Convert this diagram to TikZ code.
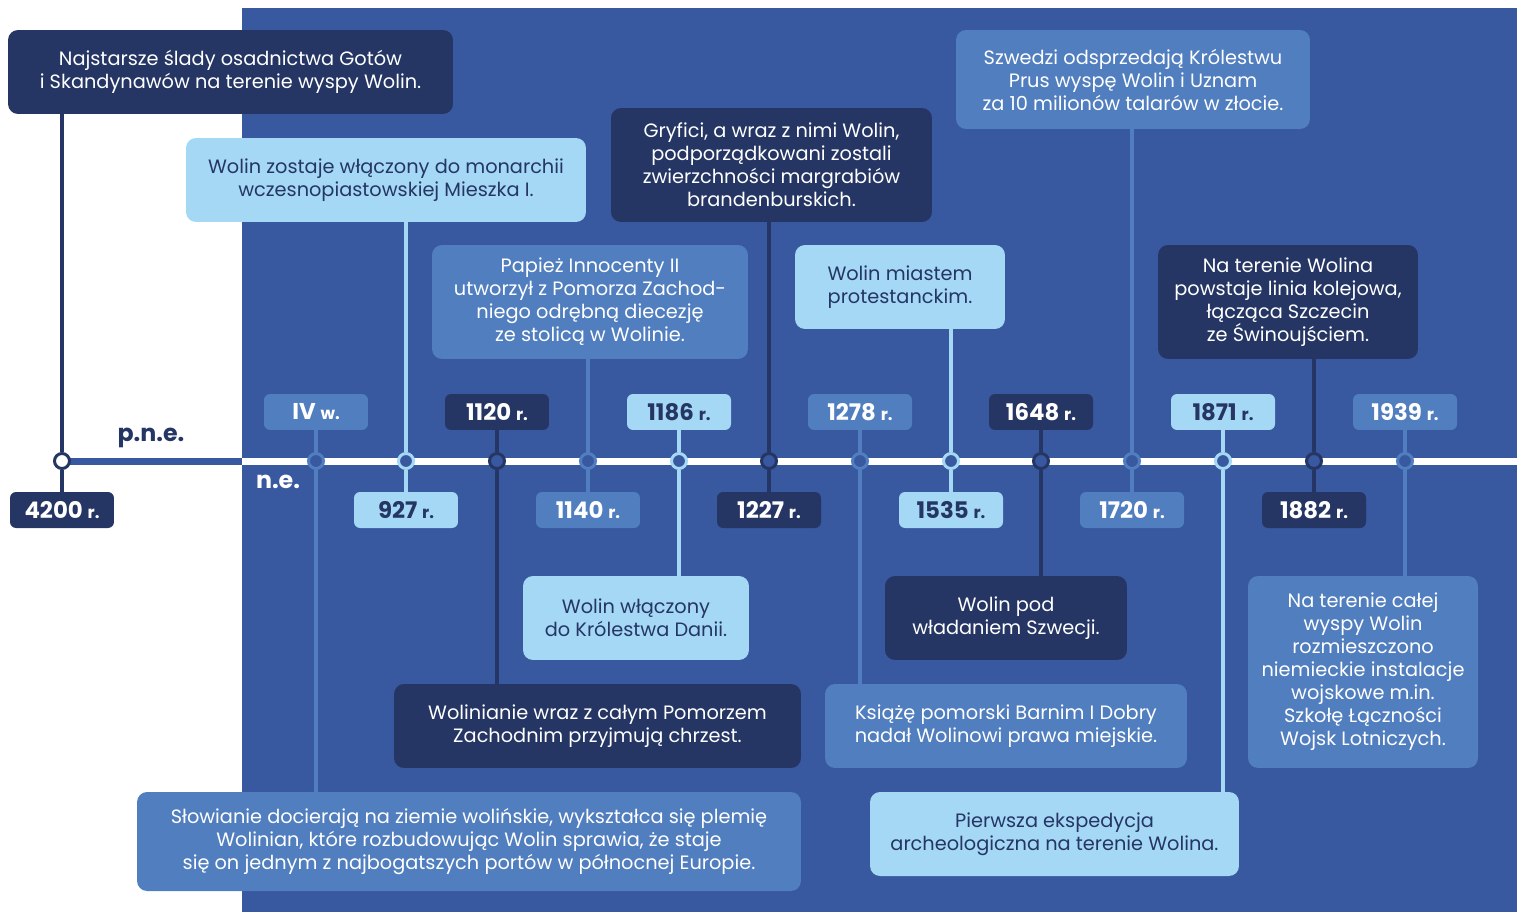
\documentclass[tikz,border=0pt]{standalone}
\usepackage{fontspec}
\setmainfont{Poppins}

\definecolor{bgblue}{RGB}{56,88,160}
\definecolor{navy}{RGB}{37,54,100}
\definecolor{midblue}{RGB}{80,126,191}
\definecolor{lightblue}{RGB}{164,216,245}

\newcommand{\yearlbl}[2]{#1 {\fontsize{9.5}{9.5}\selectfont #2}}

\begin{document}
\begin{tikzpicture}[x=0.02cm, y=-0.02cm]
    \tikzstyle{descbox}=[rounded corners=0.2cm, align=center, inner sep=0pt, font=\fontsize{11}{13.1}\selectfont]
    \tikzstyle{navybox}=[descbox, fill=navy, text=white]
    \tikzstyle{midbox}=[descbox, fill=midblue, text=white]
    \tikzstyle{lightbox}=[descbox, fill=lightblue, text=navy]
    \tikzstyle{yearbox}=[rounded corners=0.12cm, minimum width=2.08cm, minimum height=0.72cm, inner sep=0pt, font=\bfseries\fontsize{13}{13}\selectfont]
    \tikzstyle{navyyear}=[yearbox, fill=navy, text=white]
    \tikzstyle{midyear}=[yearbox, fill=midblue, text=white]
    \tikzstyle{lightyear}=[yearbox, fill=lightblue, text=navy]
    \tikzstyle{marker}=[circle, minimum size=0.3cm, inner sep=0pt, line width=0.06cm, fill=bgblue]
    \tikzstyle{navymark}=[marker, draw=navy]
    \tikzstyle{midmark}=[marker, draw=midblue]
    \tikzstyle{lightmark}=[marker, draw=lightblue]
    \tikzstyle{navystem}=[navy, line width=0.07cm]
    \tikzstyle{midstem}=[midblue, line width=0.07cm]
    \tikzstyle{lightstem}=[lightblue, line width=0.07cm]

    \useasboundingbox (0,0) rectangle (1517,912);
    \fill[bgblue] (242,8) rectangle (1517,912);

    % axis
    \coordinate (start) at (62,461);
    \coordinate (era) at (242,461);
    \coordinate (end) at (1517,461);
    \draw[bgblue, line width=0.14cm] (start) -- (era);
    \draw[white, line width=0.14cm] (era) -- (end);

    \node[text=navy, font=\bfseries\fontsize{13.5}{13.5}\selectfont] (pne) at (151,438) {p.n.e.};
    \node[text=white, font=\bfseries\fontsize{13.5}{13.5}\selectfont] (ne) at (278,482) {n.e.};

    % markers
    \node[navymark, fill=white] (m4200) at (62,461) {};
    \node[midmark] (m4) at (316,461) {};
    \node[lightmark] (m927) at (406,461) {};
    \node[navymark] (m1120) at (497,461) {};
    \node[midmark] (m1140) at (588,461) {};
    \node[lightmark] (m1186) at (679,461) {};
    \node[navymark] (m1227) at (769,461) {};
    \node[midmark] (m1278) at (860,461) {};
    \node[lightmark] (m1535) at (951,461) {};
    \node[navymark] (m1648) at (1041,461) {};
    \node[midmark] (m1720) at (1132,461) {};
    \node[lightmark] (m1871) at (1223,461) {};
    \node[navymark] (m1882) at (1314,461) {};
    \node[midmark] (m1939) at (1405,461) {};

    % years
    \node[navyyear] (y4200) at (62,510) {\yearlbl{4200}{r.}};
    \node[midyear] (y4) at (316,412) {\yearlbl{IV}{w.}};
    \node[lightyear] (y927) at (406,510) {\yearlbl{927}{r.}};
    \node[navyyear] (y1120) at (497,412) {\yearlbl{1120}{r.}};
    \node[midyear] (y1140) at (588,510) {\yearlbl{1140}{r.}};
    \node[lightyear] (y1186) at (679,412) {\yearlbl{1186}{r.}};
    \node[navyyear] (y1227) at (769,510) {\yearlbl{1227}{r.}};
    \node[midyear] (y1278) at (860,412) {\yearlbl{1278}{r.}};
    \node[lightyear] (y1535) at (951,510) {\yearlbl{1535}{r.}};
    \node[navyyear] (y1648) at (1041,412) {\yearlbl{1648}{r.}};
    \node[midyear] (y1720) at (1132,510) {\yearlbl{1720}{r.}};
    \node[lightyear] (y1871) at (1223,412) {\yearlbl{1871}{r.}};
    \node[navyyear] (y1882) at (1314,510) {\yearlbl{1882}{r.}};
    \node[midyear] (y1939) at (1405,412) {\yearlbl{1939}{r.}};

    % events above the axis
    \node[navybox, minimum width=8.9cm, minimum height=1.68cm] (d4200) at (230.5,72)
        {Najstarsze ślady osadnictwa Gotów\\i Skandynawów na terenie wyspy Wolin.};
    \node[lightbox, minimum width=8cm, minimum height=1.68cm] (d927) at (386,180)
        {Wolin zostaje włączony do monarchii\\wczesnopiastowskiej Mieszka I.};
    \node[midbox, minimum width=6.32cm, minimum height=2.28cm] (d1140) at (590,302)
        {Papież Innocenty II\\utworzył z Pomorza Zachod-\\niego odrębną diecezję\\ze stolicą w Wolinie.};
    \node[navybox, minimum width=6.42cm, minimum height=2.28cm] (d1227) at (771.5,165)
        {Gryfici, a wraz z nimi Wolin,\\podporządkowani zostali\\zwierzchności margrabiów\\brandenburskich.};
    \node[lightbox, minimum width=4.2cm, minimum height=1.68cm] (d1535) at (900,287)
        {Wolin miastem\\protestanckim.};
    \node[midbox, minimum width=7.08cm, minimum height=1.98cm] (d1720) at (1133,79.5)
        {Szwedzi odsprzedają Królestwu\\Prus wyspę Wolin i Uznam\\za 10 milionów talarów w złocie.};
    \node[navybox, minimum width=5.2cm, minimum height=2.28cm] (d1882) at (1288,302)
        {Na terenie Wolina\\powstaje linia kolejowa,\\łącząca Szczecin\\ze Świnoujściem.};

    % events below the axis
    \node[midbox, minimum width=13.28cm, minimum height=1.98cm] (d4) at (469,841.5)
        {Słowianie docierają na ziemie wolińskie, wykształca się plemię\\Wolinian, które rozbudowując Wolin sprawia, że staje\\się on jednym z najbogatszych portów w północnej Europie.};
    \node[navybox, minimum width=8.14cm, minimum height=1.68cm] (d1120) at (597.5,726)
        {Wolinianie wraz z całym Pomorzem\\Zachodnim przyjmują chrzest.};
    \node[lightbox, minimum width=4.52cm, minimum height=1.68cm] (d1186) at (636,618)
        {Wolin włączony\\do Królestwa Danii.};
    \node[midbox, minimum width=7.24cm, minimum height=1.68cm] (d1278) at (1006,726)
        {Książę pomorski Barnim I Dobry\\nadał Wolinowi prawa miejskie.};
    \node[navybox, minimum width=4.84cm, minimum height=1.68cm] (d1648) at (1006,618)
        {Wolin pod\\władaniem Szwecji.};
    \node[lightbox, minimum width=7.38cm, minimum height=1.68cm] (d1871) at (1054.5,834)
        {Pierwsza ekspedycja\\archeologiczna na terenie Wolina.};
    \node[midbox, minimum width=4.6cm, minimum height=3.84cm] (d1939) at (1363,672)
        {Na terenie całej\\wyspy Wolin\\rozmieszczono\\niemieckie instalacje\\wojskowe m.in.\\Szkołę Łączności\\Wojsk Lotniczych.};

    % stems
    \draw[navystem] (m4200 |- d4200.south) -- (m4200) (m4200) -- (y4200);
    \draw[midstem] (y4) -- (m4) (m4) -- (m4 |- d4.north);
    \draw[lightstem] (m927 |- d927.south) -- (m927) (m927) -- (y927);
    \draw[navystem] (y1120) -- (m1120) (m1120) -- (m1120 |- d1120.north);
    \draw[midstem] (m1140 |- d1140.south) -- (m1140) (m1140) -- (y1140);
    \draw[lightstem] (y1186) -- (m1186) (m1186) -- (m1186 |- d1186.north);
    \draw[navystem] (m1227 |- d1227.south) -- (m1227) (m1227) -- (y1227);
    \draw[midstem] (y1278) -- (m1278) (m1278) -- (m1278 |- d1278.north);
    \draw[lightstem] (m1535 |- d1535.south) -- (m1535) (m1535) -- (y1535);
    \draw[navystem] (y1648) -- (m1648) (m1648) -- (m1648 |- d1648.north);
    \draw[midstem] (m1720 |- d1720.south) -- (m1720) (m1720) -- (y1720);
    \draw[lightstem] (y1871) -- (m1871) (m1871) -- (m1871 |- d1871.north);
    \draw[navystem] (m1882 |- d1882.south) -- (m1882) (m1882) -- (y1882);
    \draw[midstem] (y1939) -- (m1939) (m1939) -- (m1939 |- d1939.north);
\end{tikzpicture}
\end{document}
